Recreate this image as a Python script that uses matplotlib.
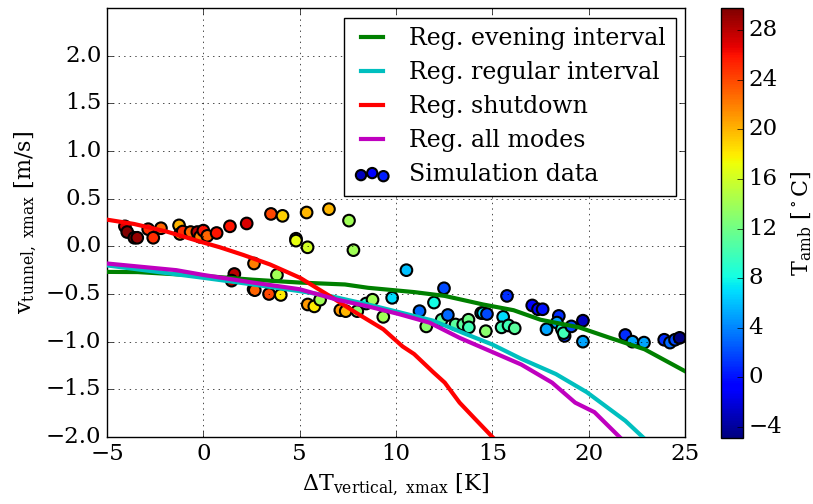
import numpy as np
import matplotlib
matplotlib.use("Agg")
import matplotlib.pyplot as plt

# simulation points: dT_vertical, v_tunnel, T_amb
sim_dt = [-4.07, -3.95, -3.58, -3.43, -2.86, -2.6, -2.2, -1.26, -1.21, -1.07,
          -0.66, -0.31, -0.17, 0.0, 0.21, 0.69, 1.38, 2.25, 3.51, 4.11,
          5.36, 6.52, 4.81, 4.81, 5.41, 7.56, 7.79,
          1.61, 1.47, 2.63, 3.82, 2.61, 2.67, 3.41, 4.02, 5.42, 5.76, 6.06,
          7.11, 7.39, 7.99, 8.45, 8.78, 9.34, 9.8, 10.54, 11.22, 11.57, 11.97,
          12.49, 12.37, 12.69, 13.09, 13.49, 13.76, 13.78, 14.42, 14.52, 14.72,
          14.66, 15.76, 15.56, 15.48, 15.84, 16.16, 17.07, 17.37, 17.61, 17.81,
          18.45, 18.35, 18.61, 18.75, 18.7, 19.1, 19.7, 19.7, 21.9, 22.27,
          22.87, 23.92, 24.22, 24.48, 24.72]
sim_v = [0.21, 0.15, 0.09, 0.09, 0.18, 0.09, 0.19, 0.22, 0.13, 0.155,
         0.15, 0.15, 0.10, 0.165, 0.11, 0.14, 0.21, 0.24, 0.34, 0.32,
         0.355, 0.39, 0.08, 0.06, -0.01, 0.27, -0.04,
         -0.29, -0.36, -0.18, -0.30, -0.45, -0.46, -0.50, -0.51, -0.61, -0.63, -0.56,
         -0.67, -0.68, -0.68, -0.60, -0.56, -0.74, -0.54, -0.25, -0.68, -0.84, -0.59,
         -0.44, -0.77, -0.72, -0.82, -0.82, -0.77, -0.85, -0.70, -0.70, -0.71,
         -0.89, -0.52, -0.74, -0.85, -0.83, -0.86, -0.62, -0.66, -0.66, -0.87,
         -0.73, -0.80, -0.87, -0.94, -0.91, -0.84, -0.78, -1.0, -0.93, -1.0,
         -1.01, -0.98, -1.01, -0.98, -0.96]
sim_tamb = [27, 29.8, 29.5, 29, 25, 25, 23, 20, 22, 25,
            23, 28, 22, 26, 23, 26, 26, 27, 24, 19,
            20, 20, 17, 17, 16, 14, 14,
            28, 28, 22, 14, 23, 23, 24, 18, 21, 18, 14,
            21, 20, 13, 9, 14, 14, 7, 6, 3, 13, 8,
            2, 11, 3, 11, 11, 12, 10, 6, 7, 2,
            13, 1, 7, 10, 10, 11, -1, -1, 0, 5,
            1, 5, 9, 1, 10, 2, -3, 5, 1, 5,
            5, 1, 3, 2, -4.9]

# colours of the three legend markers (as T_amb values)
legend_tamb = [-3.0, -1.0, 0.5]

# regression curves
even_x = [-5, -3.4, 0, 2.57, 5, 7.35, 8.55, 10.94, 12.53, 14.52, 16.1, 17.5, 19.5, 21.1, 22.9, 25]
even_y = [-0.268, -0.27, -0.31, -0.35, -0.38, -0.40, -0.435, -0.48, -0.52, -0.61, -0.67, -0.77, -0.85, -0.96, -1.08, -1.31]

reg_x = [-5, 0, 2.57, 5, 6.55, 8.55, 10.54, 11.93, 13.5, 15.0, 16.5, 18.3, 19.9, 21.1, 21.9, 22.8]
reg_y = [-0.20, -0.33, -0.40, -0.47, -0.52, -0.61, -0.71, -0.78, -0.91, -1.03, -1.18, -1.34, -1.53, -1.71, -1.83, -2.0]

shut_x = [-5, -3.6, -1.9, -0.17, 0.86, 2.07, 3.46, 5.02, 6.55, 7.95, 9.34, 10.34, 10.94, 11.93, 12.53, 13.3, 14.1, 15.0]
shut_y = [0.28, 0.235, 0.155, 0.05, -0.01, -0.09, -0.19, -0.33, -0.52, -0.70, -0.87, -1.05, -1.13, -1.32, -1.43, -1.64, -1.81, -2.0]

all_x = [-5, -1.4, 0, 2.57, 5, 6.95, 8.55, 10.14, 11.73, 13.3, 14.9, 16.5, 18.1, 19.3, 20.3, 21.1, 21.6]
all_y = [-0.18, -0.25, -0.30, -0.38, -0.45, -0.56, -0.63, -0.71, -0.80, -0.96, -1.10, -1.24, -1.43, -1.64, -1.74, -1.90, -2.0]


def main():
    plt.style.use("classic")
    plt.rcParams["font.family"] = ["DejaVu Serif"]
    plt.rcParams["mathtext.fontset"] = "dejavuserif"
    plt.rcParams["font.size"] = 16
    plt.rcParams["xtick.labelsize"] = 16.5
    plt.rcParams["ytick.labelsize"] = 16.5

    fig = plt.figure(figsize=(8.13, 5.04), dpi=100, facecolor="white")
    ax = fig.add_axes([0.1316, 0.133, 0.711, 0.851])
    cax = fig.add_axes([0.887, 0.131, 0.027, 0.853])

    sc = ax.scatter(sim_dt, sim_v, c=sim_tamb, cmap="jet", s=70,
                    edgecolors="black", linewidths=1.5, zorder=2,
                    label="Simulation data")
    ax.plot(even_x, even_y, color="green", lw=3, label="Reg. evening interval", zorder=3)
    ax.plot(reg_x, reg_y, color="c", lw=3, label="Reg. regular interval", zorder=3)
    ax.plot(shut_x, shut_y, color="red", lw=3, label="Reg. shutdown", zorder=3)
    ax.plot(all_x, all_y, color="m", lw=3, label="Reg. all modes", zorder=3)

    ax.set_xlim(-5, 25)
    ax.set_ylim(-2.0, 2.5)
    ax.set_yticks(np.arange(-2.0, 2.01, 0.5))
    ax.grid(True, color="black", linestyle=":")
    ax.set_xlabel(r"$\mathrm{\Delta T_{vertical,\ xmax}}$ [K]")
    ax.set_ylabel(r"$\mathrm{v_{tunnel,\ xmax}}$ [m/s]")

    handles, labels = ax.get_legend_handles_labels()
    order = [1, 2, 3, 4, 0]
    leg = ax.legend([handles[i] for i in order], [labels[i] for i in order],
                    loc="upper right", scatterpoints=3, fancybox=False,
                    fontsize=17, handlelength=1.55, borderaxespad=0.4,
                    labelspacing=0.47)
    sc_handle = leg.legend_handles[-1]
    sc_handle.set_array(np.asarray(legend_tamb))
    sc_handle.set_cmap("jet")
    sc_handle.set_norm(sc.norm)
    sc_handle.set_sizes([55])

    cb = fig.colorbar(sc, cax=cax, ticks=np.arange(-4, 29, 4))
    cb.set_label(r"$\mathrm{T_{amb}}$ [$^\circ$C]")

    fig.savefig("out.png", dpi=100, facecolor="white")


if __name__ == "__main__":
    main()
